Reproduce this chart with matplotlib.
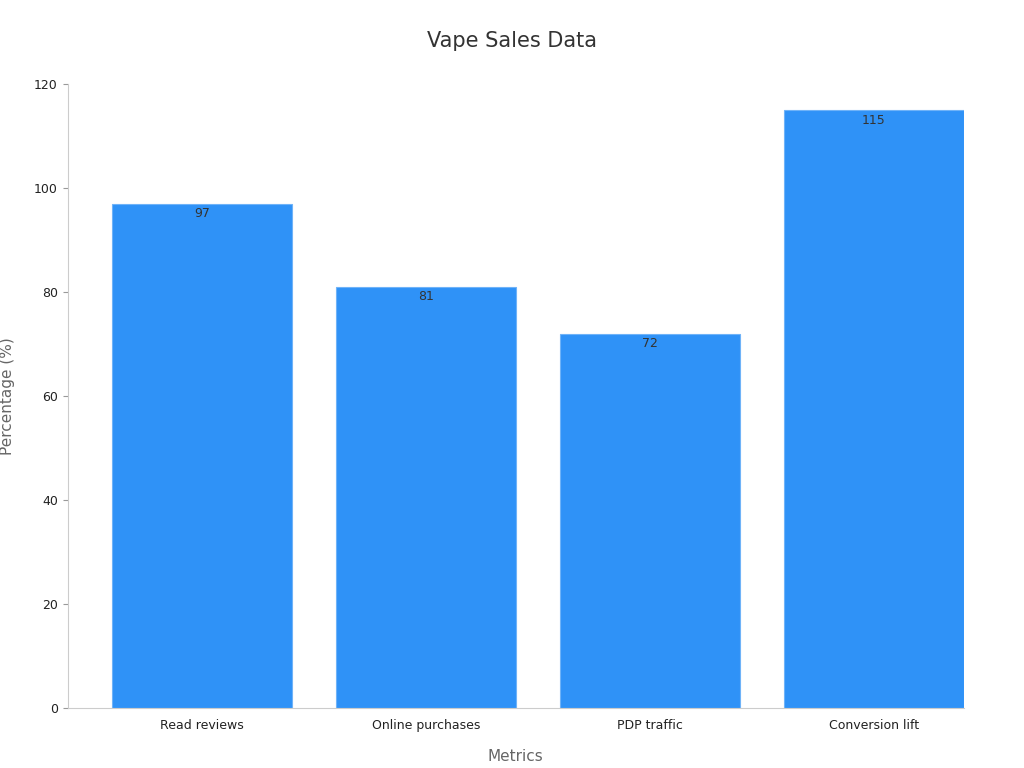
import matplotlib
matplotlib.use("Agg")
import matplotlib.pyplot as plt

categories = ["Read reviews", "Online purchases", "PDP traffic", "Conversion lift"]
values = [97, 81, 72, 115]

fig = plt.figure(figsize=(10.24, 7.68), dpi=100)
ax = fig.add_axes([0.066, 0.078, 0.875, 0.812])
bars = ax.bar(categories, values, width=0.8, color="#2f92f7", edgecolor="#6fb3f8", linewidth=0.8)
for b, v in zip(bars, values):
    ax.text(b.get_x() + b.get_width()/2, v - 0.6, str(v), ha="center", va="top", fontsize=9, color="#333333")
ax.set_ylim(0, 120)
ax.set_xlim(-0.6, 3.4)
ax.set_yticks(range(0, 121, 20))
for s in ["top", "right"]:
    ax.spines[s].set_visible(False)
ax.spines["left"].set_color("#cccccc")
ax.spines["bottom"].set_color("#cccccc")
ax.tick_params(colors="#222222", labelsize=9)
ax.tick_params(axis="x", length=0, pad=8)
ax.tick_params(axis="y", color="#999999")
ax.set_xlabel("Metrics", color="#666666", fontsize=11, labelpad=12)
ax.set_ylabel("Percentage (%)", color="#666666", fontsize=11, labelpad=14)
fig.suptitle("Vape Sales Data", y=0.96, fontsize=15, color="#333333")
fig.savefig("out.png", dpi=100)
